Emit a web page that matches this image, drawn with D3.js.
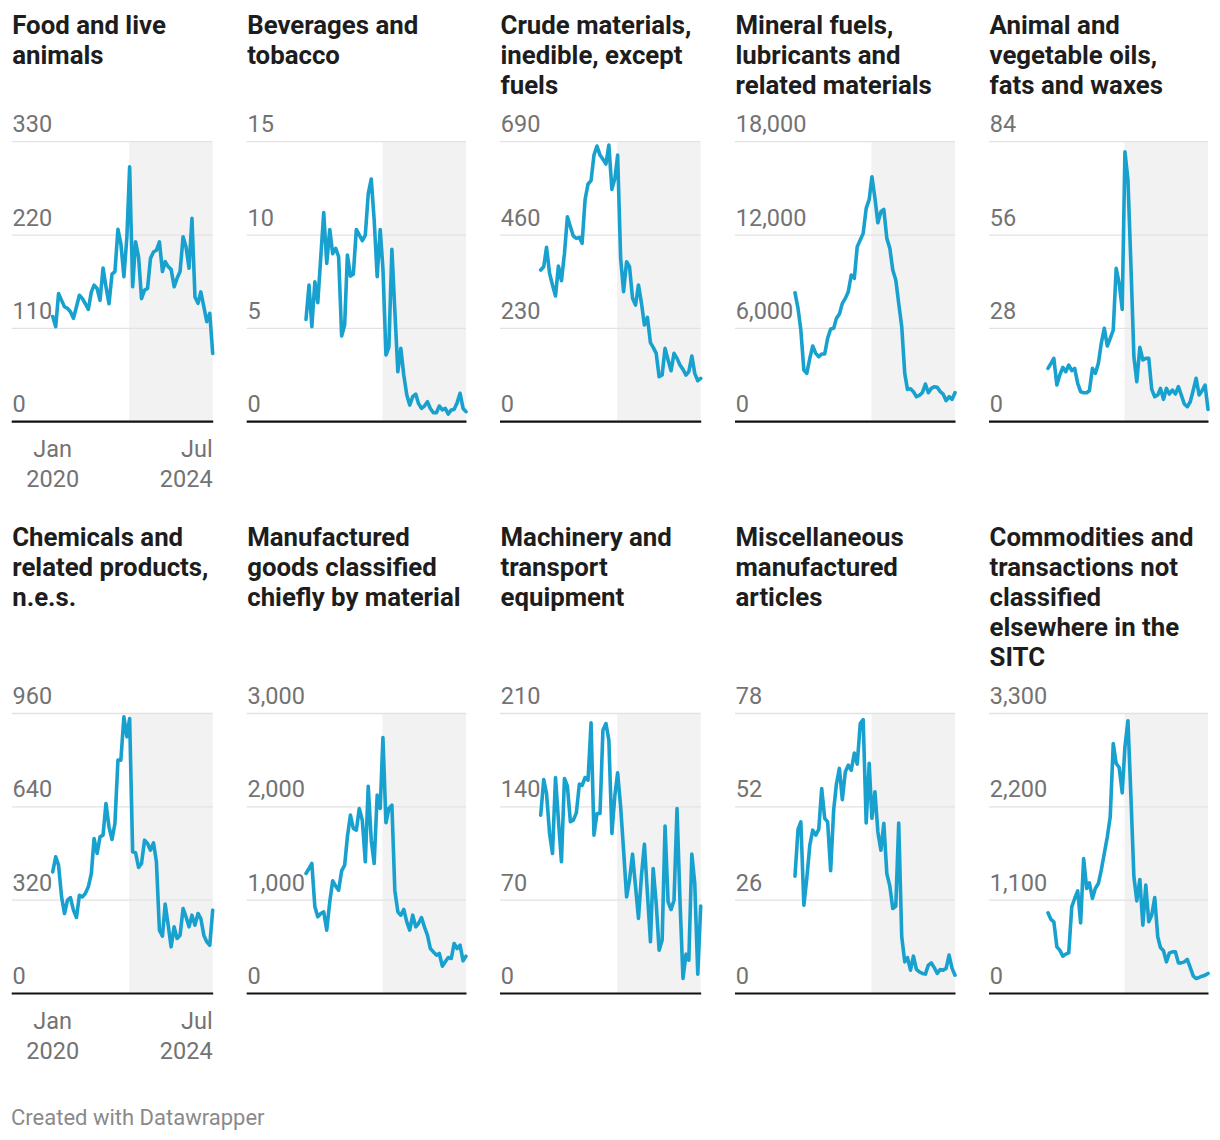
<!DOCTYPE html>
<html><head><meta charset="utf-8">
<script src="https://cdn.jsdelivr.net/npm/d3@7"></script>
<style>
body{margin:0;background:#fff;}
svg text{font-family:Roboto,"Noto Sans",sans-serif;}
</style>
</head><body>
<svg id="chart" width="1220" height="1140"></svg>
<script>
// ---- DATA (monthly, Jan 2020 – Jul 2024) ----
const startMonth = [2020, 0];
const monthCount = 55;
const shadeStart = [2022, 1, 24];

const titles = [
  ["Food and live", "animals"],
  ["Beverages and", "tobacco"],
  ["Crude materials,", "inedible, except", "fuels"],
  ["Mineral fuels,", "lubricants and", "related materials"],
  ["Animal and", "vegetable oils,", "fats and waxes"],
  ["Chemicals and", "related products,", "n.e.s."],
  ["Manufactured", "goods classified", "chiefly by material"],
  ["Machinery and", "transport", "equipment"],
  ["Miscellaneous", "manufactured", "articles"],
  ["Commodities and", "transactions not", "classified", "elsewhere in the", "SITC"]
];

const foodLiveAnimals = [124,112,151,143,135.5,133.6,129.6,121.8,135.5,149,145,139,132.4,153,161,157,143,181,159,139,174,177,226.7,210,171,218,300.5,159,212,194,145,155,157,192.5,200,202,212,177,188.6,182.7,179.5,159,169,177,218,206,181,239.6,147,139.5,153,135.5,117.9,127.7,80.5];
const beveragesTobacco = [5.48,7.32,5.09,7.5,6.38,8.84,11.2,8.48,10.3,9.0,9.29,8.84,4.59,5.18,8.93,7.8,7.9,10.3,10.0,9.7,10.0,12.2,13.0,10.8,7.77,10.3,8.2,3.57,4.0,9.23,5.98,2.68,3.93,2.5,1.43,0.89,1.34,1.48,0.98,0.71,0.84,1.07,0.71,0.48,0.48,0.84,0.63,0.71,0.41,0.63,0.66,1.02,1.52,0.71,0.54];
const crudeMaterials = [373.8,382,429.6,365.5,336.8,309.7,383.6,347.5,414.8,505,480.5,457.5,451.8,454.3,439.5,547.9,585.7,594,657,679.3,657,646.5,635,681.8,572.5,599.6,657,402.5,320.4,394.3,382,304,287.5,336.8,291.6,238.2,257,194.7,183.2,168.4,110.9,115,180.7,152,125.7,168.4,156,139.6,129,115,123.2,161.8,119,101,106.8];
const mineralFuels = [8293,7286,5893,3321,3107,4071,4864,4393,4179,4350,4350,5357,5957,6000,6643,6921,7607,7929,8357,9429,9214,11250,11679,12107,13714,14293,15750,14357,12793,13500,13650,11786,11143,9750,9107,7607,6107,3107,2079,2121,1929,1607,1693,1864,2421,1864,2143,2250,2207,1929,1779,1350,1607,1436,1864];
const animalVegOils = [16.0,17.5,19.0,11.0,14.0,16.3,15.0,17.0,15.3,16.0,11.5,9.0,8.7,8.7,9.3,16.0,14.5,17.5,23.5,28.0,22.7,25.0,27.5,46.0,41.5,33.7,81.0,72.5,47.5,19.5,12.0,22.3,18.5,19.0,19.0,9.7,7.5,8.0,10.0,6.7,10.0,8.3,9.5,8.3,10.5,8.0,5.3,4.5,6.0,9.5,13.0,8.0,9.3,11.0,3.7];
const chemicals = [417,468.6,440,331.4,274.3,320,329,285.7,260.6,337,331.4,342.9,365.7,411.4,531.4,480,537,542.9,651.4,571.4,528,582.9,800,800,948.6,880,942.9,485.7,482.3,432,445.7,525.7,514.3,491.4,516.6,451.4,217,196.6,306.3,234.3,160,228.6,188.6,200,291.4,262.9,228.6,268.6,234.3,274.3,257,200,177,165.7,285.7];
const manufacturedGoods = [1286,1339,1393,929,821,857,875,679,982,1207,1150,1107,1314,1375,1679,1911,1768,1750,1982,1857,1411,2221,1643,1393,2125,1982,2743,1829,1982,2018,1107,875,839,900,768,679,839,714,750,814,714,625,482,446,411,429,293,339,386,375,536,482,518,350,400];
const machinery = [133.8,160.5,150,120,105,162,130,98.8,161.3,155.5,128.8,130,135.5,157,156,162,160,203,118.8,135,135,197.5,202.5,190,120,148.8,165.5,140,107.5,72.5,85,104.5,80,56.3,88.8,112,75,38.8,93.8,67.5,32.5,40,125.5,68.8,63,70,138.8,70,11.3,29.5,25,104.5,82.5,14.5,65.5];
const miscManufactured = [32.7,45.7,47.8,24.6,32.0,41.3,45.5,44.1,45.7,57.1,48.8,47.8,34.2,51.1,58.3,62.7,54.0,61.8,63.6,62.2,67.0,63.9,75.2,76.3,47.5,64.1,48.8,56.2,45.0,39.9,47.4,33.4,29.9,23.7,24.3,47.5,15.8,8.8,10.0,6.5,10.4,6.7,6.0,5.6,5.4,7.9,8.5,7.2,5.6,6.7,6.5,7.0,10.7,7.0,5.1];
const notClassified = [951,872,845,550,511,440,464,479,1021,1120,1210,833,1591,1238,1304,1120,1238,1296,1454,1650,1846,2082,2946,2711,2664,2365,2907,3214,2338,1375,1092,1344,805,1277,845,923,1131,668,542,503,373,479,491,491,361,361,373,401,306,204,177,189,204,216,236];

const seriesValues = [foodLiveAnimals, beveragesTobacco, crudeMaterials, mineralFuels, animalVegOils,
  chemicals, manufacturedGoods, machinery, miscManufactured, notClassified];

const yTicks = [
  [0,110,220,330],[0,5,10,15],[0,230,460,690],[0,6000,12000,18000],[0,28,56,84],
  [0,320,640,960],[0,1000,2000,3000],[0,70,140,210],[0,26,52,78],[0,1100,2200,3300]
];
const xTickLabels = [["Jan","2020"],["Jul","2024"]];
const footerText = "Created with Datawrapper";

// ---- LAYOUT ----
const panelLeft  = [11.7, 246.7, 500, 735, 989];
const panelRight = [212.7, 466, 700.7, 955, 1208];
const plotWidth = 160;
const rows = [
  {titleY: 34, top: 141.7, base: 421.7},
  {titleY: 546, top: 713.5, base: 993.5}
];
const lineColor = "#18a1cf";

const svg = d3.select("#chart");
const dates = d3.range(monthCount).map(i => new Date(startMonth[0], startMonth[1] + i, 1));
const shadeDate = new Date(...shadeStart);

seriesValues.forEach((vals, k) => {
  const r = Math.floor(k / 5), c = k % 5;
  const row = rows[r];
  const L = panelLeft[c], R = panelRight[c];
  const g = svg.append("g");
  const x = d3.scaleTime().domain([dates[0], dates[dates.length-1]]).range([R - plotWidth, R]);
  const ticks = yTicks[k];
  const y = d3.scaleLinear().domain([0, d3.max(ticks)]).range([row.base, row.top]);

  // title
  const t = g.append("text").attr("x", L + 0.5).attr("y", row.titleY)
    .attr("font-size", 25.8).attr("font-weight", 700).attr("fill", "#1d1d1d");
  titles[k].forEach((ln, i) => t.append("tspan").attr("x", L + 0.5).attr("dy", i ? 30 : 0).text(ln));

  // shade
  g.append("rect").attr("x", x(shadeDate)).attr("y", y(d3.max(ticks)))
    .attr("width", R - x(shadeDate)).attr("height", y(0) - y(d3.max(ticks)))
    .attr("fill", "#f2f2f2");

  // gridlines + labels
  const fmt = d3.format(",");
  ticks.forEach(v => {
    if (v !== 0) {
      g.append("line").attr("x1", L).attr("x2", R).attr("y1", y(v)).attr("y2", y(v))
        .attr("stroke", "#e2e2e2").attr("stroke-width", 1.3);
    }
    g.append("text").attr("x", L + 0.8).attr("y", y(v) - 9.5)
      .attr("font-size", 23.5).attr("fill", "#737373").text(fmt(v));
  });

  // line
  const line = d3.line().x((d, i) => x(dates[i])).y(d => y(d)).curve(d3.curveLinear);
  g.append("path").datum(vals).attr("d", line).attr("fill", "none")
    .attr("stroke", lineColor).attr("stroke-width", 3.6).attr("stroke-linejoin", "round").attr("stroke-linecap", "round");

  // baseline
  g.append("line").attr("x1", L).attr("x2", R + 0.5).attr("y1", y(0)).attr("y2", y(0))
    .attr("stroke", "#111").attr("stroke-width", 2.2);

  // x-axis labels (first column only)
  if (c === 0) {
    const xa = g.append("g").attr("font-size", 23.5).attr("fill", "#737373");
    const t1 = xa.append("text").attr("text-anchor", "middle");
    xTickLabels[0].forEach((s, i) => t1.append("tspan").attr("x", x(dates[0])).attr("y", row.base + 35 + i * 30).text(s));
    const t2 = xa.append("text").attr("text-anchor", "end");
    xTickLabels[1].forEach((s, i) => t2.append("tspan").attr("x", x(dates[dates.length-1])).attr("y", row.base + 35 + i * 30).text(s));
  }
});

svg.append("text").attr("x", 11).attr("y", 1125).attr("font-size", 22)
  .attr("fill", "#8a8a8a").text(footerText);
</script>
</body></html>
